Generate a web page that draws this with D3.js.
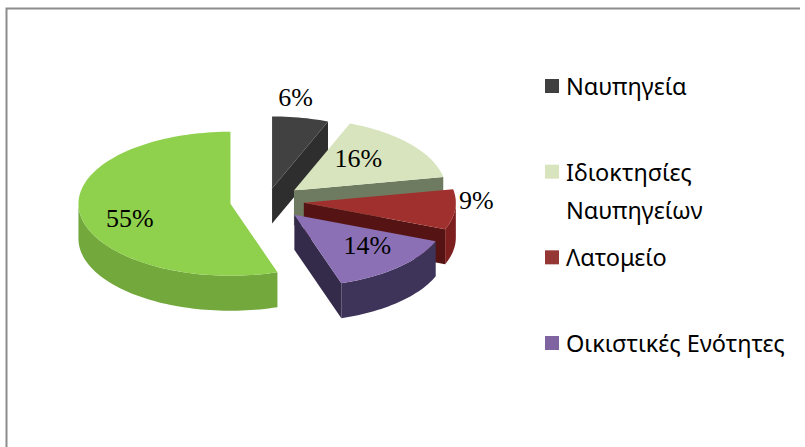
<!DOCTYPE html>
<html>
<head>
<meta charset="utf-8">
<script src="https://cdn.jsdelivr.net/npm/d3@7"></script>
<style>
	body { margin: 0; background: #fff; }
</style>
</head>
<body>
<svg id="chart"></svg>
<script>
// slice data, clockwise from 12 o'clock
const categories = ['Ναυπηγεία', 'Ιδιοκτησίες Ναυπηγείων', 'Λατομείο', 'Οικιστικές Ενότητες', 'Άλλο'];
const values = [6, 16, 9, 14, 55];
const labels = ['6%', '16%', '9%', '14%', '55%'];

// legend shows only the first four entries
const legendLines = [['Ναυπηγεία'], ['Ιδιοκτησίες', 'Ναυπηγείων'], ['Λατομείο'], ['Οικιστικές Ενότητες']];

const topColors = ['#414141', '#d8e4bd', '#a0302d', '#8b70b6', '#8fd04d'];
const wallColors = ['#2b2b2b', '#8a9470', '#7d1f1f', '#3e3358', '#72a83c'];
const faceColors = ['#2e2e2e', '#6e7b60', '#551313', '#342a4a', '#5f9430'];
const legendColors = ['#404040', '#d7e4bd', '#953735', '#8064a2'];

const explode = [27, 35, 37, 40, 37];
const labelR = [1.28, 0.55, 1.14, 0.7, 0.67];
const labelDx = [-13, 0, 0, 0, 0];
const labelDy = [0, -7, -10, -6, 7];

const DIMENSION = {
	width: 805,
	height: 447,
	cx: 267,
	cy: 201,
	rx: 152,
	ry: 72,
	depth: 35
};

const svg = d3.select('#chart')
	.attr('width', DIMENSION.width)
	.attr('height', DIMENSION.height);

// frame (top and left edges only are visible)
svg.append('path')
	.attr('d', `M6.5,${DIMENSION.height} V8.5 H800`)
	.attr('fill', 'none')
	.attr('stroke', '#8c8c8c')
	.attr('stroke-width', 2);

const pie = d3.pie().sort(null).value(d => d.value);
const slices = pie(values.map((v, i) => ({ value: v, i: i })));

const { rx, ry, depth } = DIMENSION;
const k = ry / rx;

const pt = (c, a, dz = 0) => [c[0] + rx * Math.sin(a), c[1] - ry * Math.cos(a) + dz];

const arcPts = (c, a0, a1, dz = 0) => {
	const n = Math.max(2, Math.ceil((a1 - a0) / 0.03));
	return d3.range(n + 1).map(j => pt(c, a0 + (a1 - a0) * j / n, dz));
};

const line = d3.line();

slices.forEach(s => {
	const mid = (s.startAngle + s.endAngle) / 2;
	const e = explode[s.data.i];
	s.center = [DIMENSION.cx + e * Math.sin(mid), DIMENSION.cy - e * Math.cos(mid) * k];
	s.mid = mid;
});

const order = slices.slice().sort((a, b) => a.center[1] - b.center[1]);

const g = svg.append('g');

for (let s of order) {
	const c = s.center;
	const i = s.data.i;
	const a0 = s.startAngle, a1 = s.endAngle;
	const sg = g.append('g').attr('class', `slice-${i}`);
	const cb = [c[0], c[1] + depth];

	// radial cut faces
	if (Math.sin(a1) > 0.001) {
		sg.append('path')
			.attr('d', line([c, pt(c, a1), pt(c, a1, depth), cb]) + 'Z')
			.attr('fill', faceColors[i]);
	}
	if (Math.sin(a0) < -0.001) {
		sg.append('path')
			.attr('d', line([c, pt(c, a0), pt(c, a0, depth), cb]) + 'Z')
			.attr('fill', faceColors[i]);
	}

	// outer wall, front half only
	const b0 = Math.max(a0, Math.PI / 2), b1 = Math.min(a1, 3 * Math.PI / 2);
	if (b1 > b0) {
		const pts = arcPts(c, b0, b1).concat(arcPts(c, b0, b1, depth).reverse());
		sg.append('path')
			.attr('d', line(pts) + 'Z')
			.attr('fill', wallColors[i]);
	}

	// top face
	sg.append('path')
		.attr('d', line([c].concat(arcPts(c, a0, a1))) + 'Z')
		.attr('fill', topColors[i]);
}

// percent labels
svg.append('g')
	.selectAll('text')
	.data(slices)
	.join('text')
	.attr('x', d => d.center[0] + rx * labelR[d.data.i] * Math.sin(d.mid) + labelDx[d.data.i])
	.attr('y', d => d.center[1] - ry * labelR[d.data.i] * Math.cos(d.mid) + labelDy[d.data.i])
	.attr('text-anchor', 'middle')
	.attr('dominant-baseline', 'central')
	.attr('font-family', '"Liberation Serif", "Times New Roman", serif')
	.attr('font-size', 26)
	.attr('fill', '#000')
	.text(d => labels[d.data.i]);

// legend
const legendY = d3.scalePoint()
	.domain(legendLines.map((d, i) => i))
	.range([86, 343]);

const legend = svg.append('g')
	.selectAll('g')
	.data(legendLines)
	.join('g')
	.attr('transform', (d, i) => `translate(545,${legendY(i)})`);

legend.append('rect')
	.attr('x', 0)
	.attr('y', -7)
	.attr('width', 14)
	.attr('height', 14)
	.attr('fill', (d, i) => legendColors[i]);

legend.each(function (d) {
	const t = d3.select(this).append('text')
		.attr('font-family', '"Noto Sans", sans-serif')
		.attr('font-size', 23.5)
		.attr('fill', '#000');
	d.forEach((ln, j) => {
		t.append('tspan')
			.attr('x', 21)
			.attr('y', 9 + j * 38)
			.text(ln);
	});
});
</script>
</body>
</html>
